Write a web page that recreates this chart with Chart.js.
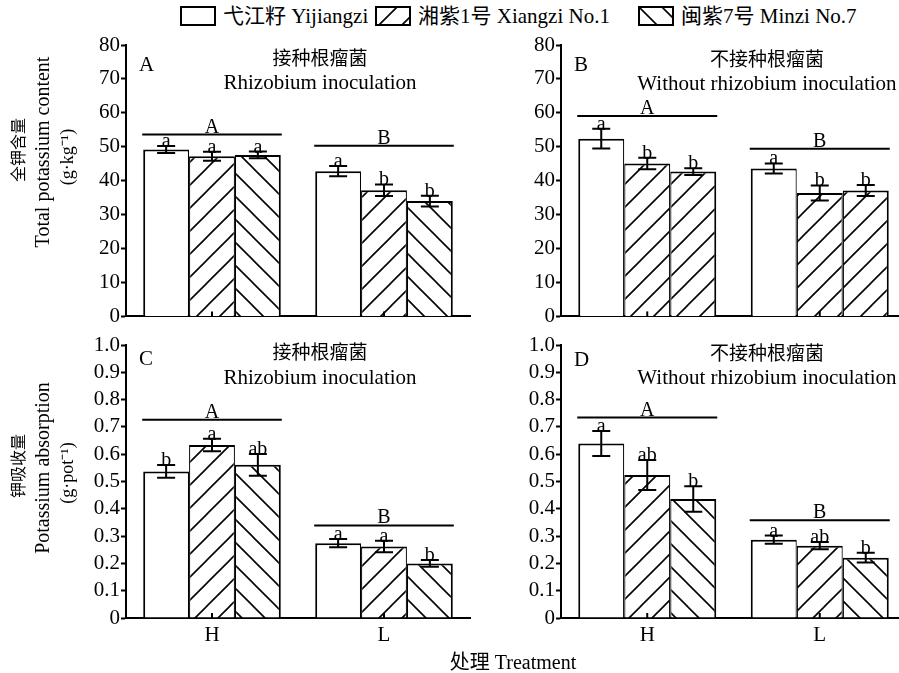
<!DOCTYPE html>
<html>
<head>
<meta charset="utf-8">
<script src="https://cdn.jsdelivr.net/npm/chart.js@4.4.1/dist/chart.umd.min.js"></script>
<style>
  html, body { margin: 0; padding: 0; background: #fff; overflow: hidden; }
  body { width: 899px; height: 673px; position: relative; color: #000;
         font-family: "Liberation Serif", "Noto Sans CJK SC", serif; }
  canvas.panel { position: absolute; }
  #legend { position: absolute; left: 0; top: 6px; width: 899px; height: 22px;
            font-size: 21px; line-height: 20px; white-space: nowrap; }
  #legend .item { position: absolute; top: 0; display: flex; align-items: center; }
  #legend canvas { width: 36px; height: 20px; margin-right: 7px; }
  #xtitle { position: absolute; top: 646px; left: 513px; transform: translateX(-50%);
            font-size: 20px; white-space: nowrap; }
</style>
</head>
<body>
<div id="legend"></div>
<canvas class="panel" id="panelA" width="480" height="300" style="left:0;top:30px"></canvas>
<canvas class="panel" id="panelB" width="440" height="300" style="left:480px;top:30px"></canvas>
<canvas class="panel" id="panelC" width="480" height="343" style="left:0;top:330px"></canvas>
<canvas class="panel" id="panelD" width="440" height="343" style="left:480px;top:330px"></canvas>
<div id="xtitle">处理 Treatment</div>

<script>
// 数据
const groups = ['H', 'L'];
const cultivars = ['弋江籽 Yijiangzi', '湘紫1号 Xiangzi No.1', '闽紫7号 Minzi No.7'];
const groupLetters = ['A', 'B'];

// 全钾含量 (g·kg-1) —— 每行一个品种, [H, L]
const contentInoc = [[49.2, 42.8], [47.2, 37.2], [47.6, 34.0]];
const contentInocErr = [[1.0, 1.5], [1.3, 1.7], [1.0, 1.6]];
const contentInocLetters = [['a', 'a'], ['a', 'b'], ['a', 'b']];
const contentInocGroup = [53.6, 50.3];

const contentNoInoc = [[52.4, 43.6], [45.1, 36.4], [42.7, 37.1]];
const contentNoInocErr = [[2.9, 1.5], [1.7, 2.2], [1.0, 1.6]];
const contentNoInocLetters = [['a', 'a'], ['b', 'b'], ['b', 'b']];
const contentNoInocGroup = [59.1, 49.4];

// 钾吸收量 (g·pot-1)
const absorbInoc = [[0.537, 0.274], [0.634, 0.262], [0.561, 0.200]];
const absorbInocErr = [[0.023, 0.015], [0.023, 0.021], [0.040, 0.012]];
const absorbInocLetters = [['b', 'a'], ['a', 'a'], ['ab', 'b']];
const absorbInocGroup = [0.726, 0.339];

const absorbNoInoc = [[0.639, 0.287], [0.524, 0.265], [0.436, 0.221]];
const absorbNoInocErr = [[0.046, 0.015], [0.055, 0.013], [0.047, 0.018]];
const absorbNoInocLetters = [['a', 'a'], ['ab', 'ab'], ['b', 'b']];
const absorbNoInocGroup = [0.734, 0.358];

const contentTicks = ['0', '10', '20', '30', '40', '50', '60', '70', '80'];
const absorbTicks = ['0', '0.1', '0.2', '0.3', '0.4', '0.5', '0.6', '0.7', '0.8', '0.9', '1.0'];

// 字体
const serif = '"Liberation Serif", "Noto Sans CJK SC", serif';
Chart.defaults.font.family = serif;
Chart.defaults.color = '#000';
const tickFont = { family: serif, size: 21 };
const letterFont = '20px ' + serif;
const titleFont = '21px ' + serif;
const cjkTitleFont = '19px ' + serif;

// 斜线填充
function hatch(dir) {
  const s = 23;
  const c = document.createElement('canvas');
  c.width = s; c.height = s;
  const g = c.getContext('2d');
  g.fillStyle = '#fff';
  g.fillRect(0, 0, s, s);
  g.strokeStyle = '#000';
  g.lineWidth = 1.6;
  g.beginPath();
  if (dir === '/') {
    g.moveTo(-2, s + 2); g.lineTo(s + 2, -2);
    g.moveTo(-2, 2); g.lineTo(2, -2);
    g.moveTo(s - 2, s + 2); g.lineTo(s + 2, s - 2);
  } else {
    g.moveTo(-2, -2); g.lineTo(s + 2, s + 2);
    g.moveTo(s - 2, -2); g.lineTo(s + 2, 2);
    g.moveTo(-2, s - 2); g.lineTo(2, s + 2);
  }
  g.stroke();
  return g.createPattern(c, 'repeat');
}
const slash = hatch('/');
const backslash = hatch('\\');

// 图例
const legendFills = ['#fff', slash, backslash];
const legendLeft = [180, 375, 638];
const legendEl = document.getElementById('legend');
cultivars.forEach((name, i) => {
  const item = document.createElement('div');
  item.className = 'item';
  item.style.left = legendLeft[i] + 'px';
  const sw = document.createElement('canvas');
  sw.width = 36; sw.height = 20;
  const g = sw.getContext('2d');
  g.fillStyle = legendFills[i];
  g.fillRect(0, 0, 36, 20);
  g.strokeStyle = '#000';
  g.lineWidth = 2;
  g.strokeRect(1, 1, 34, 18);
  const label = document.createElement('span');
  label.textContent = name;
  item.appendChild(sw);
  item.appendChild(label);
  legendEl.appendChild(item);
});

// 误差线、字母、分组线、标题
function decor(p) {
  return {
    id: 'decor',
    afterDatasetsDraw(chart) {
      const { ctx, chartArea: a, scales: { x, y } } = chart;
      ctx.save();
      ctx.strokeStyle = '#000';
      ctx.fillStyle = '#000';
      ctx.lineWidth = 2;
      ctx.textAlign = 'center';

      p.values.forEach((row, d) => {
        chart.getDatasetMeta(d).data.forEach((bar, i) => {
          const v = row[i], e = p.err[d][i];
          const top = y.getPixelForValue(v + e);
          const bot = y.getPixelForValue(v - e);
          ctx.beginPath();
          ctx.moveTo(bar.x, top); ctx.lineTo(bar.x, bot);
          ctx.moveTo(bar.x - 9, top); ctx.lineTo(bar.x + 9, top);
          ctx.moveTo(bar.x - 9, bot); ctx.lineTo(bar.x + 9, bot);
          ctx.stroke();
          ctx.font = letterFont;
          ctx.textBaseline = 'alphabetic';
          ctx.fillText(p.letters[d][i], bar.x, top + 1);
        });
      });

      groups.forEach((g, i) => {
        const first = chart.getDatasetMeta(0).data[i];
        const last = chart.getDatasetMeta(p.values.length - 1).data[i];
        const gy = y.getPixelForValue(p.group[i]);
        ctx.beginPath();
        ctx.moveTo(first.x - first.width / 2 - 1, gy);
        ctx.lineTo(last.x + last.width / 2 + 1, gy);
        ctx.stroke();
        ctx.font = letterFont;
        ctx.fillText(groupLetters[i], x.getPixelForValue(i), gy - 2);
        // 向内的刻度
        ctx.beginPath();
        ctx.moveTo(x.getPixelForValue(i), a.bottom);
        ctx.lineTo(x.getPixelForValue(i), a.bottom - 5);
        ctx.stroke();
      });

      // 面板字母和标题
      ctx.textAlign = 'left';
      ctx.textBaseline = 'middle';
      ctx.font = titleFont;
      ctx.fillText(p.panel, a.left + 13, a.top + p.titleY[2]);
      const tx = a.left + p.titleX * a.width;
      ctx.textAlign = 'center';
      ctx.font = cjkTitleFont;
      ctx.fillText(p.title[0], tx, a.top + p.titleY[0]);
      ctx.font = titleFont;
      ctx.textBaseline = 'alphabetic';
      ctx.fillText(p.title[1], tx, a.top + p.titleY[1]);

      // y 轴标题
      if (p.yTitle) {
        const fonts = ['16px ' + serif, '20px ' + serif, '18px ' + serif];
        const xs = [20, 44, 68];
        const dy = [-2, 0, 5];
        p.yTitle.forEach((t, k) => {
          ctx.save();
          ctx.translate(xs[k], p.yTitleY + dy[k]);
          ctx.rotate(-Math.PI / 2);
          ctx.font = fonts[k];
          ctx.textBaseline = 'middle';
          ctx.fillText(t, 0, 0);
          ctx.restore();
        });
      }
      ctx.restore();
    }
  };
}

function makePanel(id, p) {
  const ctx = document.getElementById(id).getContext('2d');
  const fills = p.fills;
  const borders = [
    { top: 2, left: 2, right: 1.2, bottom: 0 },
    { top: 2, left: 1.2, right: 1.2, bottom: 0 },
    { top: 2, left: 1.2, right: 2, bottom: 0 }
  ];
  new Chart(ctx, {
    type: 'bar',
    data: {
      labels: groups,
      datasets: p.values.map((row, d) => ({
        label: cultivars[d],
        data: row,
        backgroundColor: fills[d],
        borderColor: '#000',
        borderWidth: borders[d],
        borderSkipped: false,
        categoryPercentage: 0.8,
        barPercentage: 1.0
      }))
    },
    options: {
      responsive: false,
      animation: false,
      events: [],
      layout: { padding: p.padding },
      plugins: { legend: { display: false }, tooltip: { enabled: false } },
      scales: {
        x: {
          ticks: { display: p.xLabels, font: tickFont, color: '#000', padding: 5 },
          grid: { display: false, drawTicks: false, tickLength: 0 },
          border: { color: '#000', width: 2 },
          afterFit: s => { s.height = p.xLabels ? 30 : 0; }
        },
        y: {
          min: 0,
          max: p.max,
          ticks: {
            stepSize: p.step,
            autoSkip: false,
            padding: 1,
            font: tickFont,
            color: '#000',
            callback: (v, i) => p.ticks[i]
          },
          grid: { drawOnChartArea: false, drawTicks: true, tickLength: 5, tickWidth: 2, color: '#000' },
          border: { color: '#000', width: 2 },
          afterFit: s => { s.width = 40; }
        }
      }
    },
    plugins: [decor(p)]
  });
}

const topPad = { left: 86, right: 10, top: 15, bottom: 12 };
const topPadR = { left: 41, right: 14, top: 15, bottom: 12 };
const botPad = { left: 86, right: 10, top: 15, bottom: 25 };
const botPadR = { left: 41, right: 14, top: 15, bottom: 25 };

makePanel('panelA', {
  values: contentInoc, err: contentInocErr, letters: contentInocLetters, group: contentInocGroup,
  ticks: contentTicks, max: 80, step: 10, fills: ['#fff', slash, backslash],
  padding: topPad, xLabels: false, panel: 'A', titleX: 0.564, titleY: [15, 44, 20],
  title: ['接种根瘤菌', 'Rhizobium inoculation'],
  yTitle: ['全钾含量', 'Total potassium content', '(g·kg⁻¹)'], yTitleY: 122
});
makePanel('panelB', {
  values: contentNoInoc, err: contentNoInocErr, letters: contentNoInocLetters, group: contentNoInocGroup,
  ticks: contentTicks, max: 80, step: 10, fills: ['#fff', slash, slash],
  padding: topPadR, xLabels: false, panel: 'B', titleX: 0.597, titleY: [16, 45, 20],
  title: ['不接种根瘤菌', 'Without rhizobium inoculation']
});
makePanel('panelC', {
  values: absorbInoc, err: absorbInocErr, letters: absorbInocLetters, group: absorbInocGroup,
  ticks: absorbTicks, max: 1.0, step: 0.1, fills: ['#fff', slash, backslash],
  padding: botPad, xLabels: true, panel: 'C', titleX: 0.564, titleY: [9, 39, 14],
  title: ['接种根瘤菌', 'Rhizobium inoculation'],
  yTitle: ['钾吸收量', 'Potassium absorption', '(g·pot⁻¹)'], yTitleY: 138
});
makePanel('panelD', {
  values: absorbNoInoc, err: absorbNoInocErr, letters: absorbNoInocLetters, group: absorbNoInocGroup,
  ticks: absorbTicks, max: 1.0, step: 0.1, fills: ['#fff', slash, backslash],
  padding: botPadR, xLabels: true, panel: 'D', titleX: 0.597, titleY: [10, 39, 15],
  title: ['不接种根瘤菌', 'Without rhizobium inoculation']
});
</script>
</body>
</html>
